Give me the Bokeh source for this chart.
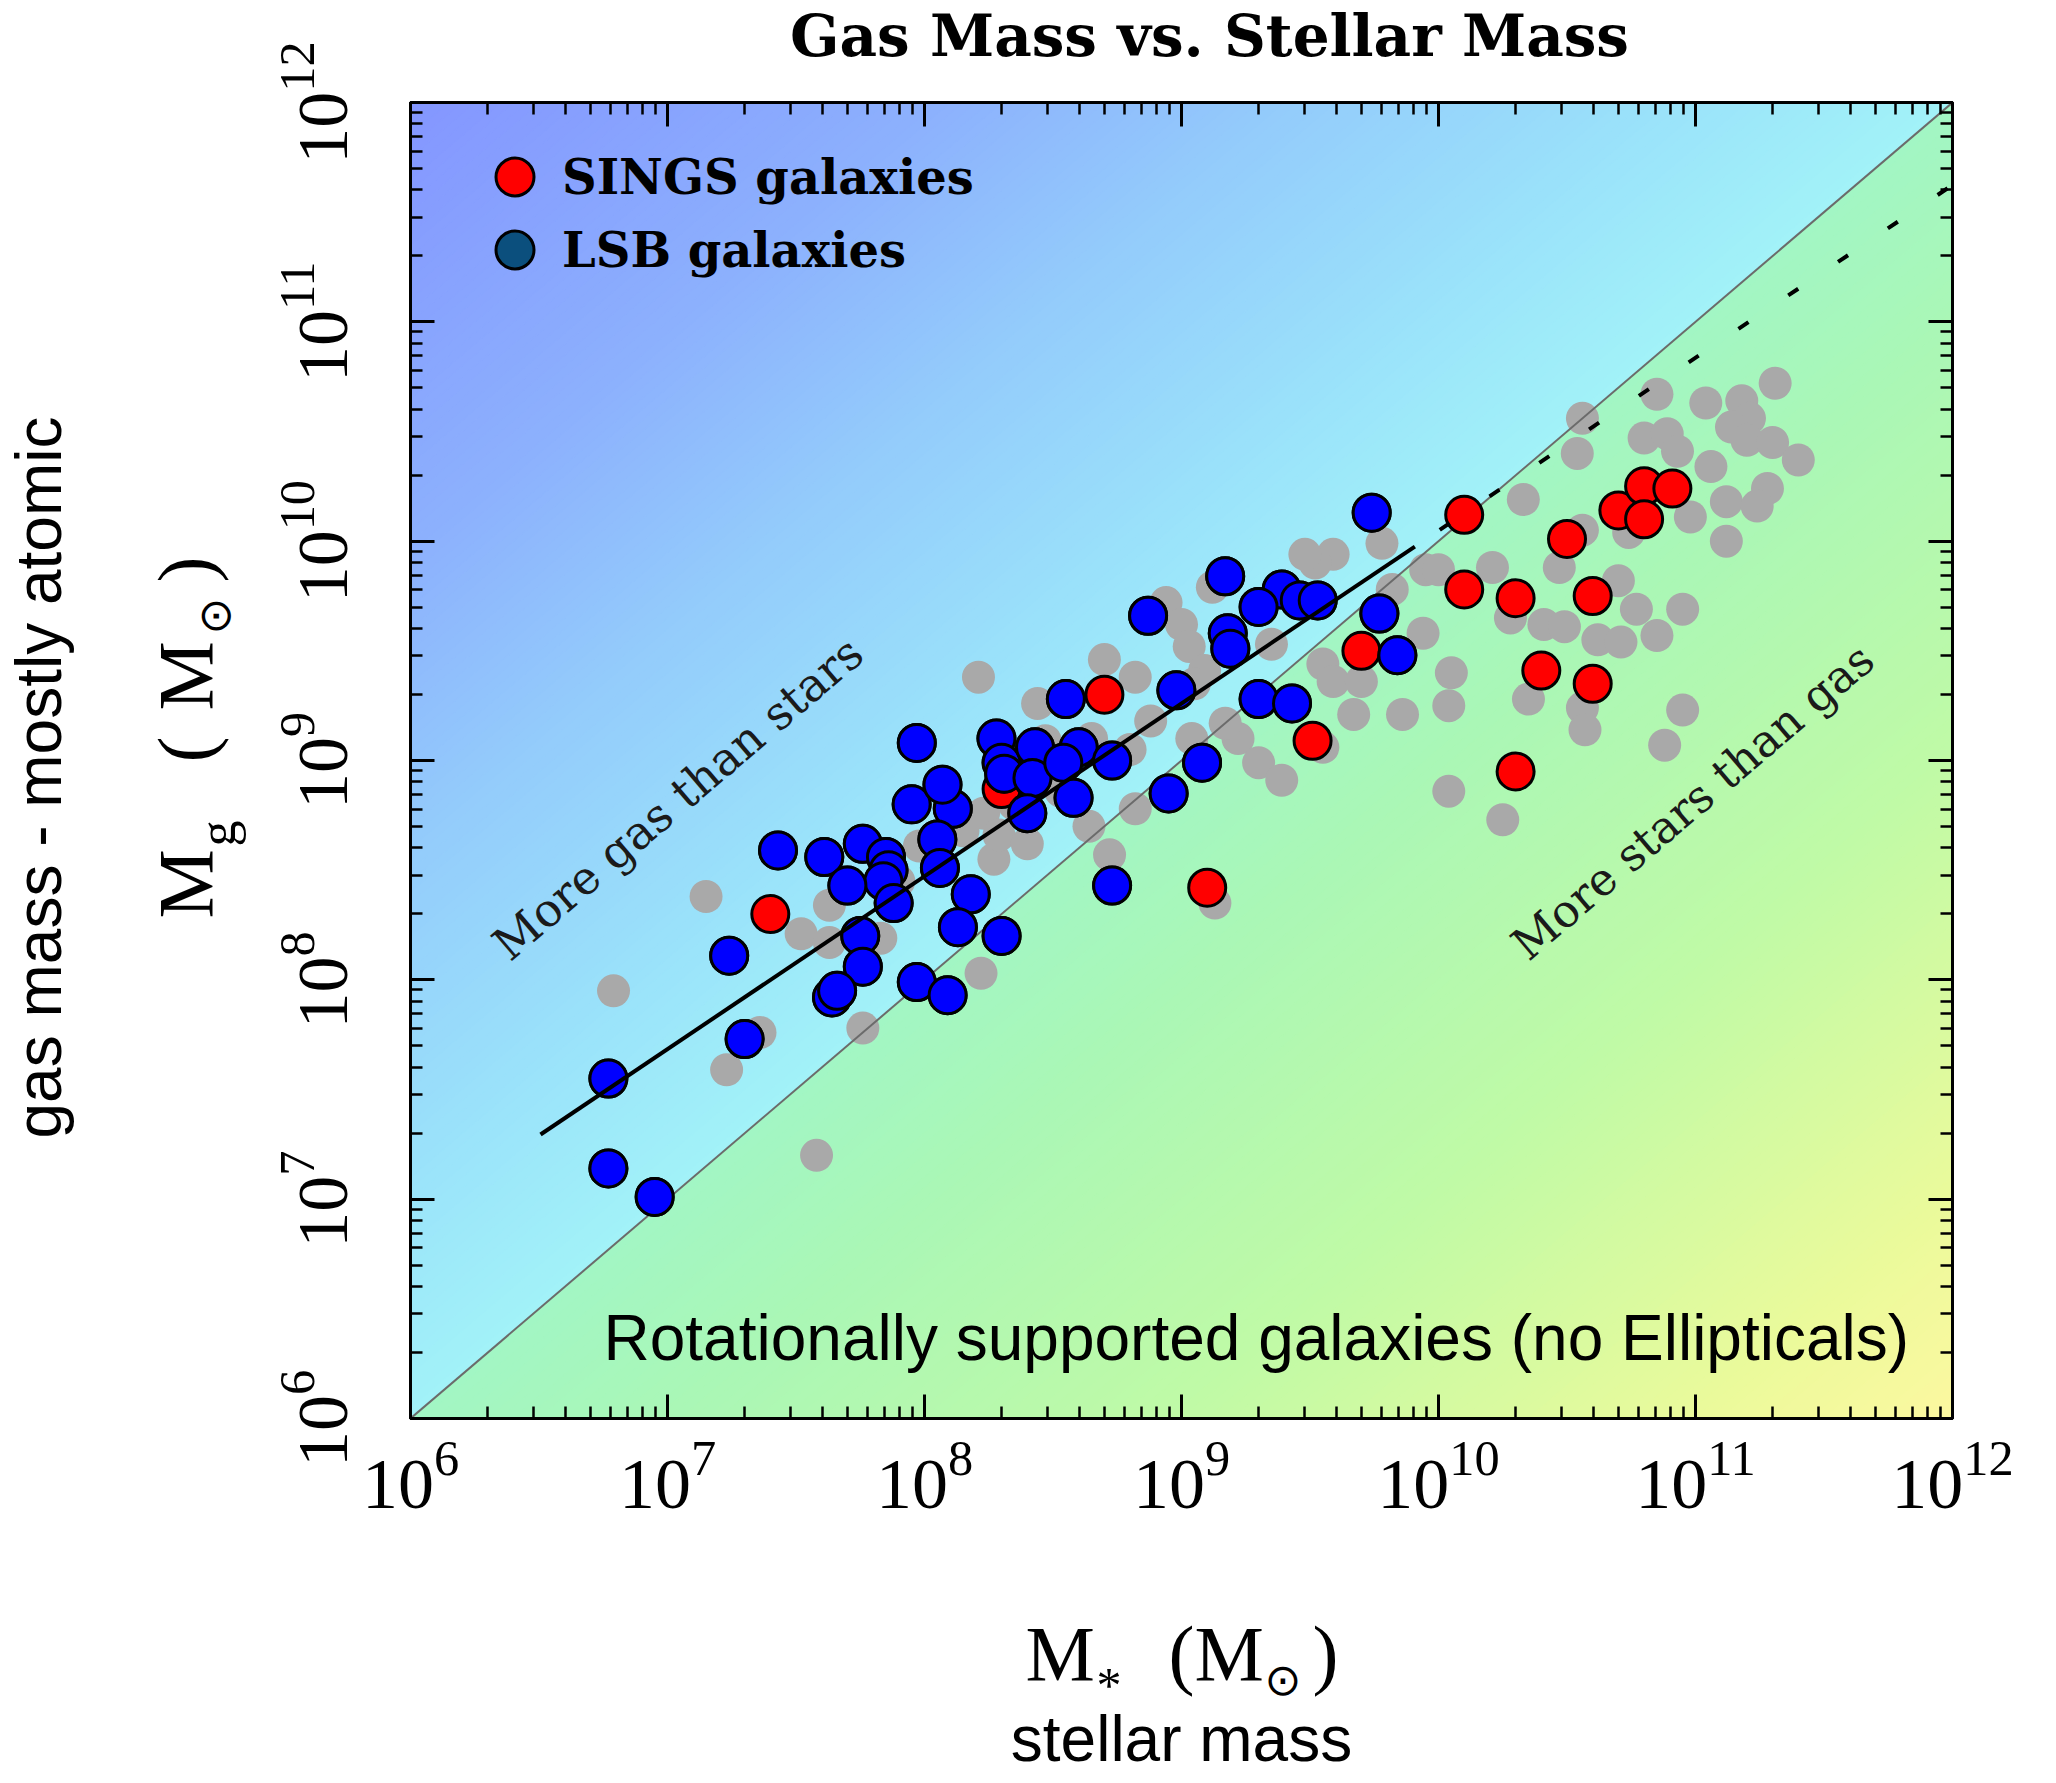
import numpy as np
from bokeh.plotting import figure
from bokeh.core.properties import value
from bokeh.models import (Label, Legend, LegendItem, FixedTicker, LogAxis,
                          CustomJSTickFormatter, LogTickFormatter)
from bokeh.embed import file_html
from bokeh.resources import INLINE

# ---------------------------------------------------------------------------
# Data: log10 of stellar mass and gas mass, in solar masses
# ---------------------------------------------------------------------------
sings_log_mstar = [7.40, 8.30, 8.70, 9.10, 9.51, 9.70, 10.10, 10.10, 10.30,
                   10.30, 10.40, 10.50, 10.60, 10.60, 10.70, 10.80, 10.80, 10.91]
sings_log_mgas = [8.30, 8.87, 9.30, 8.42, 9.09, 9.50, 10.12, 9.78, 9.74,
                  8.95, 9.41, 10.01, 9.75, 9.35, 10.14, 10.25, 10.10, 10.24]

lsb_log_mstar = [6.77, 6.77, 6.95, 7.24, 7.30, 7.43, 7.61, 7.76, 7.85, 7.86,
                 7.84, 7.70, 7.88, 7.75, 7.76, 7.64, 7.66, 7.97, 8.09, 7.95,
                 8.11, 8.05, 8.06, 8.18, 8.13, 8.30, 7.97, 8.07, 8.28, 8.30,
                 8.31, 8.43, 8.42, 8.40, 8.55, 8.60, 8.54, 8.58, 8.73, 8.87,
                 8.98, 8.95, 8.73, 9.17, 9.39, 9.30, 9.46, 9.53, 9.18, 9.19,
                 9.77, 9.84, 9.30, 9.43, 9.08, 9.74]
lsb_log_mgas = [7.55, 7.14, 7.01, 8.11, 7.73, 8.59, 8.56, 8.62, 8.56, 8.50,
                8.45, 8.43, 8.35, 8.20, 8.06, 7.92, 7.95, 7.99, 7.93, 8.80,
                8.78, 8.64, 8.51, 8.39, 8.24, 8.20, 9.08, 8.89, 9.10, 8.99,
                8.94, 9.06, 8.92, 8.76, 9.28, 9.06, 8.99, 8.83, 9.00, 9.66,
                9.32, 8.85, 8.43, 9.84, 9.78, 9.70, 9.73, 9.73, 9.58, 9.51,
                9.67, 9.48, 9.28, 9.26, 8.99, 10.13]

other_log_mstar = [6.79, 7.15, 7.23, 7.36, 7.58, 7.76, 7.52, 7.63, 7.63, 7.83,
                   8.22, 8.21, 7.98, 8.27, 8.23, 8.29, 8.40, 8.64, 8.82, 8.72,
                   9.13, 8.44, 8.70, 8.82, 8.94, 9.00, 9.03, 9.12, 9.09, 9.35,
                   9.22, 9.30, 9.04, 9.55, 9.59, 9.70, 9.67, 9.86, 9.55, 9.78,
                   9.59, 9.52, 9.82, 9.94, 9.95, 11.31, 10.85, 11.04, 11.18, 10.56,
                   11.21, 11.14, 10.80, 10.89, 11.20, 11.30, 11.40, 10.93, 10.54, 11.06,
                   10.33, 11.28, 11.12, 11.24, 10.98, 11.12, 10.74, 10.56, 10.21, 10.00,
                   10.47, 10.70, 10.77, 10.95, 10.28, 10.41, 10.49, 10.62, 10.71, 10.85,
                   10.05, 10.04, 10.35, 10.56, 10.57, 10.95, 10.88, 10.04, 10.25, 9.17,
                   9.39, 8.88, 8.47, 8.53, 9.48, 7.90, 8.15, 8.35, 8.65, 8.80, 9.05]
other_log_mgas = [7.95, 8.38, 7.59, 7.76, 7.20, 7.78, 8.21, 8.17, 8.34, 8.19,
                  8.03, 9.38, 8.61, 8.55, 8.76, 8.66, 8.62, 8.70, 8.78, 8.57,
                  8.35, 9.26, 9.46, 9.38, 9.72, 9.62, 9.52, 9.79, 9.41, 9.53,
                  9.10, 8.99, 9.10, 9.44, 9.36, 9.36, 9.21, 9.21, 9.06, 9.99,
                  9.94, 9.90, 9.78, 9.58, 9.87, 10.72, 10.67, 10.63, 10.64, 10.56,
                  10.56, 10.52, 10.47, 10.49, 10.46, 10.45, 10.37, 10.41, 10.40, 10.34,
                  10.19, 10.24, 10.18, 10.16, 10.11, 10.00, 10.04, 10.05, 9.88, 9.87,
                  9.88, 9.82, 9.69, 9.69, 9.65, 9.62, 9.61, 9.55, 9.54, 9.57,
                  9.40, 9.25, 9.28, 9.24, 9.14, 9.23, 9.07, 8.86, 8.73, 9.17,
                  8.91, 9.18, 9.09, 8.86, 9.94, 8.45, 8.68, 8.80, 9.10, 9.05, 9.35]

# Power-law fit: log Mg = slope * log M* + zero_point (solid over the LSB range)
fit_slope = 0.788
fit_zero_point = 2.168
fit_solid_span = [6.506, 9.908]

decades = [6, 7, 8, 9, 10, 11, 12]

# ---------------------------------------------------------------------------
# Figure geometry (canvas pixels)
# ---------------------------------------------------------------------------
W, H = 2056, 1783
FL, FR, FT, FB = 410, 104, 102, 365
FW, FH = W - FL - FR, H - FT - FB
CX, CY = FL + FW / 2, FT + FH / 2       # frame centre, canvas pixels
DIAG = float(np.arctan2(FH, FW))       # on-screen angle of the 1:1 line

p = figure(width=W, height=H, x_axis_type="log", y_axis_type="log",
           x_range=(1e6, 1e12), y_range=(1e6, 1e12),
           output_backend="svg", toolbar_location=None,
           min_border_left=FL, min_border_right=FR,
           min_border_top=FT, min_border_bottom=FB)
p.grid.visible = False
p.background_fill_color = "white"
p.border_fill_color = "white"
p.outline_line_color = "black"
p.outline_line_width = 3

# ---------------------------------------------------------------------------
# Diagonal colour wash: blue above the 1:1 line, green-to-yellow below it
# ---------------------------------------------------------------------------
upper_stops = [(0.0, (162, 242, 248)), (1.0, (155, 228, 250)),
               (2.5, (148, 205, 251)), (4.0, (140, 176, 253)),
               (6.0, (132, 150, 255))]
lower_stops = [(0.0, (162, 246, 196)), (1.0, (170, 247, 182)),
               (3.0, (192, 250, 166)), (5.0, (235, 250, 155)),
               (6.0, (252, 248, 160))]


def wash_color(stops, t):
    ts = [s[0] for s in stops]
    rgb = [int(round(np.interp(t, ts, [s[1][i] for s in stops]))) for i in range(3)]
    return "#%02x%02x%02x" % tuple(rgb)


n_bands = 120
edges = np.linspace(0.0, 6.0, n_bands + 1)
xs, ys, cols = [], [], []
for a, b in zip(edges[:-1], edges[1:]):
    mid = 0.5 * (a + b)
    # band above the diagonal: log Mg - log M* between a and b
    xs.append(list(10.0 ** np.array([6.0, 12.0 - a, 12.0 - b, 6.0])))
    ys.append(list(10.0 ** np.array([6.0 + a, 12.0, 12.0, 6.0 + b])))
    cols.append(wash_color(upper_stops, mid))
    # band below the diagonal: log M* - log Mg between a and b
    xs.append(list(10.0 ** np.array([6.0 + a, 12.0, 12.0, 6.0 + b])))
    ys.append(list(10.0 ** np.array([6.0, 12.0 - a, 12.0 - b, 6.0])))
    cols.append(wash_color(lower_stops, mid))
p.patches(xs, ys, fill_color=cols, line_color=cols, line_width=1.2)

# ---------------------------------------------------------------------------
# Points and reference lines
# ---------------------------------------------------------------------------
lsb_x = 10.0 ** np.array(lsb_log_mstar)
lsb_y = 10.0 ** np.array(lsb_log_mgas)

p.scatter(10.0 ** np.array(other_log_mstar), 10.0 ** np.array(other_log_mgas),
          size=33, fill_color="#a9a9a9", line_color=None)

p.line([1e6, 1e12], [1e6, 1e12], line_color="#6b6b6b", line_width=2)

red_r = p.scatter(10.0 ** np.array(sings_log_mstar), 10.0 ** np.array(sings_log_mgas),
                  size=37, fill_color="#ff0000", line_color="black", line_width=3)
# legend key colour for the LSB sample (sits exactly under the blue markers)
lsb_key = p.scatter(lsb_x, lsb_y, size=37, fill_color="#0b4f7d",
                    line_color="black", line_width=3)
p.scatter(lsb_x, lsb_y, size=37, fill_color="#0000ff", line_color="black",
          line_width=3)

lx_solid = np.array(fit_solid_span)
p.line(10.0 ** lx_solid, 10.0 ** (fit_zero_point + fit_slope * lx_solid),
       line_color="black", line_width=4)
lx_dash = np.array([fit_solid_span[1], 12.0])
p.line(10.0 ** lx_dash, 10.0 ** (fit_zero_point + fit_slope * lx_dash),
       line_color="black", line_width=4, line_dash="12 48", line_dash_offset=30)

# ---------------------------------------------------------------------------
# Axes: inward ticks on all four sides, power-of-ten labels bottom and left
# ---------------------------------------------------------------------------
p.add_layout(LogAxis(), "above")
p.add_layout(LogAxis(), "right")
ticker = FixedTicker(ticks=[10.0 ** k for k in decades],
                     minor_ticks=[m * 10.0 ** k for k in decades[:-1] for m in range(2, 10)])
for ax in p.axis:
    ax.ticker = ticker
    ax.axis_line_color = "black"
    ax.axis_line_width = 3
    ax.major_tick_in = 24
    ax.major_tick_out = 0
    ax.minor_tick_in = 12
    ax.minor_tick_out = 0
    ax.major_tick_line_color = "black"
    ax.major_tick_line_width = 3
    ax.minor_tick_line_color = "black"
    ax.minor_tick_line_width = 2.5

for ax in (p.above[0], p.right[0]):
    ax.formatter = CustomJSTickFormatter(code="return ''")
    ax.major_label_text_font_size = "1px"
    ax.major_label_standoff = 0

for ax in (p.below[0], p.left[0]):
    ax.formatter = LogTickFormatter()
    ax.major_label_text_font = "Liberation Serif"
    ax.major_label_text_font_size = "72px"
    ax.major_label_text_color = "black"
p.below[0].major_label_standoff = 23
p.left[0].major_label_standoff = 64
p.left[0].major_label_orientation = "parallel"

# ---------------------------------------------------------------------------
# Title and axis titles, drawn as text glyphs anchored at the frame centre
# ---------------------------------------------------------------------------
def label_row(items, font, size, angle=0.0, align="left", style="normal"):
    """items: (text, canvas x, canvas y of the baseline, y from the top)."""
    n = len(items)
    # the alphabetic baseline lands ~0.4 em below the anchor; pre-compensate
    shift = 0.4 * size
    sx, sy = shift * np.sin(angle), shift * np.cos(angle)
    p.text(x=[1e9] * n, y=[1e9] * n, text=[t for t, _, _ in items],
           x_offset=[px - CX - sx for _, px, _ in items],
           y_offset=[py - CY - sy for _, _, py in items],
           angle=angle, text_font=value(font), text_font_size=value(f"{size}px"),
           text_font_style=style, text_align=align, text_baseline="alphabetic",
           text_color="black", level="overlay")


SERIF = "Liberation Serif"
BOOK = "DejaVu Serif"
SANS = "Liberation Sans"
SUN = "\u2299"

label_row([("Gas Mass vs. Stellar Mass", 1209, 59)], BOOK, 58, align="center",
          style="bold")

# x-axis title  M_* (M_sun)
label_row([("M", 1025, 1684), ("(M", 1168, 1684), (")", 1312, 1684)], SERIF, 78)
label_row([("*", 1096, 1704)], SERIF, 50)
label_row([(SUN, 1264, 1697)], "DejaVu Sans", 44)
label_row([("stellar mass", 1181, 1764)], SANS, 64, align="center")

# y-axis title  M_g (M_sun), reading upwards
up = np.pi / 2
label_row([("M", 216, 918), ("(", 216, 762), ("M", 216, 710), (")", 216, 582)],
          SERIF, 78, angle=up)
label_row([("g", 238, 846)], SERIF, 52, angle=up)
label_row([(SUN, 232, 634)], "DejaVu Sans", 44, angle=up)
label_row([("gas mass - mostly atomic", 64, 777)], SANS, 64, angle=up, align="center")


# ---------------------------------------------------------------------------
# Annotations inside the frame
# ---------------------------------------------------------------------------
def text_at(text, px, py, size, font, style="normal", angle=0.0, color="black"):
    """Place text at a canvas pixel position (measured from the top-left)."""
    p.add_layout(Label(x=1e6, y=1e12, x_offset=px - FL, y_offset=FT - py,
                       text=text, text_font=font, text_font_size=f"{size}px",
                       text_font_style=style, text_align="left",
                       text_baseline="alphabetic", angle=angle, text_color=color))


text_at("More gas than stars", 499, 950, 46, BOOK, angle=DIAG, color="#1a1a1a")
text_at("More stars than gas", 1518, 950, 45, BOOK, angle=DIAG, color="#1a1a1a")
text_at("Rotationally supported galaxies (no Ellipticals)", 603, 1337, 64, SANS)

# legend: one block per sample so the rows sit close together
legend_style = dict(glyph_width=95, glyph_height=95, label_standoff=0,
                    padding=0, margin=0, background_fill_alpha=0,
                    border_line_alpha=0, label_text_font=BOOK,
                    label_text_font_style="bold", label_text_font_size="48px",
                    label_text_color="black")
p.add_layout(Legend(items=[LegendItem(label="SINGS galaxies", renderers=[red_r])],
                    location=(57, 1194), **legend_style))
p.add_layout(Legend(items=[LegendItem(label="LSB galaxies", renderers=[lsb_key])],
                    location=(57, 1121), **legend_style))

open("out.html", "w").write(file_html(p, INLINE))
